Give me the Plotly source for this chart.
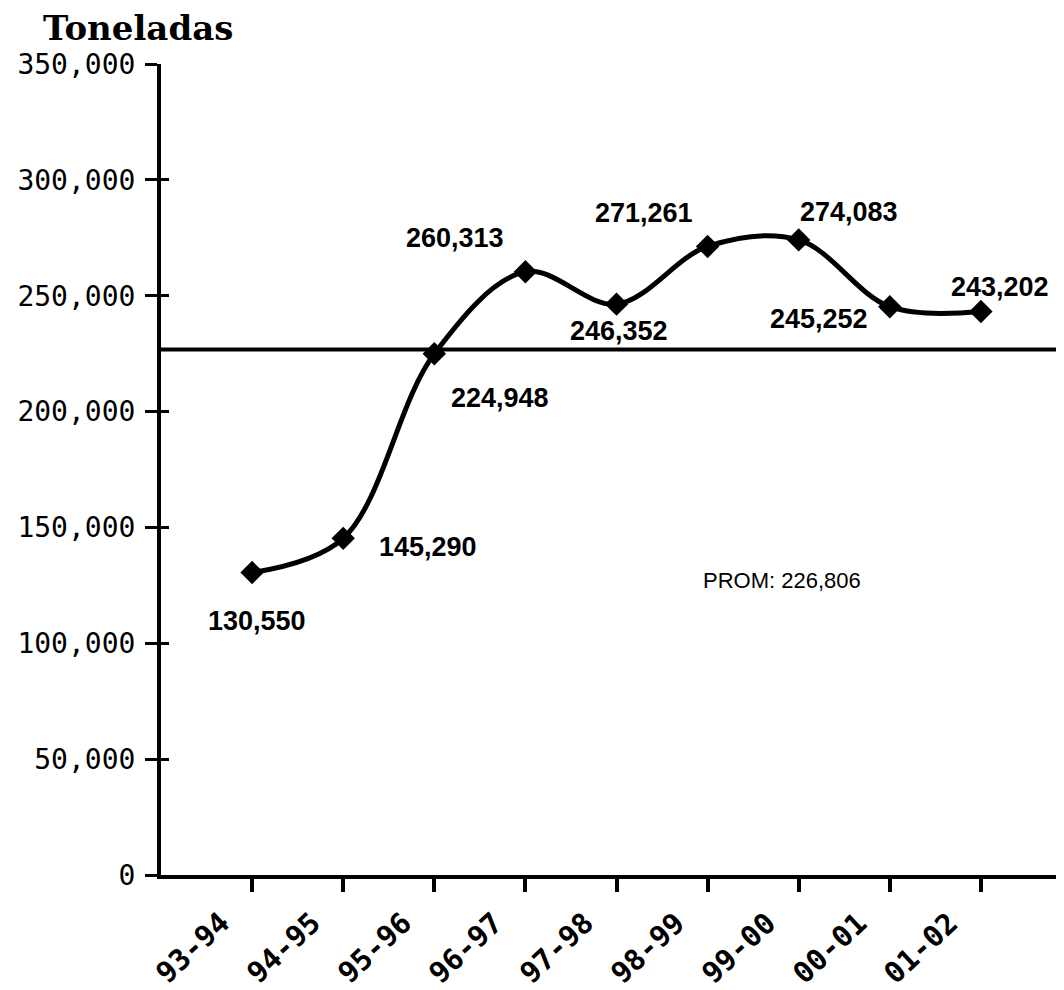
import plotly.graph_objects as go

categories = ["93-94", "94-95", "95-96", "96-97", "97-98", "98-99", "99-00", "00-01", "01-02"]
toneladas = [130550, 145290, 224948, 260313, 246352, 271261, 274083, 245252, 243202]
promedio = 226806
y_ticks = [0, 50000, 100000, 150000, 200000, 250000, 300000, 350000]
y_tick_text = ["0", "50,000", "100,000", "150,000", "200,000", "250,000", "300,000", "350,000"]
label_text = ["130,550", "145,290", "224,948", "260,313", "246,352", "271,261", "274,083", "245,252", "243,202"]
# pixel offsets of each data label relative to its point
label_dx = [5, 85, 66, -70, 2, -64, 50, -71, 19]
label_dy = [-48, -9, -44, 34, -27, 33, 28, -12, 24]

fig = go.Figure()
fig.add_trace(go.Scatter(
    x=categories, y=toneladas, mode="lines+markers",
    line=dict(color="black", width=5, shape="spline", smoothing=1.0),
    marker=dict(symbol="diamond", size=18, color="black"),
    showlegend=False, hoverinfo="skip",
))
# invisible trace for overlay axis
fig.add_trace(go.Scatter(x=categories, y=toneladas, yaxis="y2", mode="none",
                         showlegend=False, hoverinfo="skip"))

fig.add_shape(type="line", xref="paper", x0=0, x1=1, yref="y", y0=promedio, y1=promedio,
              line=dict(color="black", width=4))

for c, v, t, dx, dy in zip(categories, toneladas, label_text, label_dx, label_dy):
    fig.add_annotation(x=c, y=v, text=t, showarrow=False, xshift=dx, yshift=dy,
                       font=dict(family="Liberation Sans", size=27, color="black", weight="bold"))

# rotated category labels
for c in categories:
    fig.add_annotation(x=c, y=0, xref="x", yref="paper", text="<b>" + c + "</b>",
                       xanchor="center", yanchor="middle",
                       showarrow=False, textangle=-43, xshift=-60, yshift=-73,
                       font=dict(family="DejaVu Sans Mono", size=29, color="black"))

fig.add_annotation(x=5.82, y=126900, xref="x", yref="y",
                   text="PROM: " + f"{promedio:,}", showarrow=False,
                   font=dict(family="Liberation Sans", size=22, color="black"))

fig.update_layout(
    width=1064, height=990,
    margin=dict(l=153, r=0, t=56, b=123, autoexpand=False),
    paper_bgcolor="white", plot_bgcolor="white",
    title=dict(text="<b>Toneladas</b>", x=35 / 1064, xanchor="left", xref="container",
               y=1 - 8 / 990, yanchor="top",
               font=dict(family="DejaVu Serif", size=34, color="black")),
    xaxis=dict(type="category", range=[-1, 9.0], showgrid=False, zeroline=False,
               automargin=False, showticklabels=False,
               showline=True, linecolor="black", linewidth=4,
               ticks="outside", ticklen=13, tickwidth=4, tickcolor="black"),
    yaxis=dict(range=[0, 350000], tickvals=y_ticks, ticktext=y_tick_text,
               automargin=False,
               showgrid=False, zeroline=False, showline=True, linecolor="black", linewidth=4,
               ticks="outside", ticklen=12, tickwidth=3, tickcolor="black",
               ticklabelstandoff=4,
               tickfont=dict(family="DejaVu Sans Mono", size=28, color="black")),
    yaxis2=dict(range=[0, 350000], tickvals=y_ticks, overlaying="y", side="left",
                automargin=False,
                showgrid=False, zeroline=False, showline=False, showticklabels=False,
                ticks="inside", ticklen=8, tickwidth=3, tickcolor="black"),
)

fig.write_html("out.html")
